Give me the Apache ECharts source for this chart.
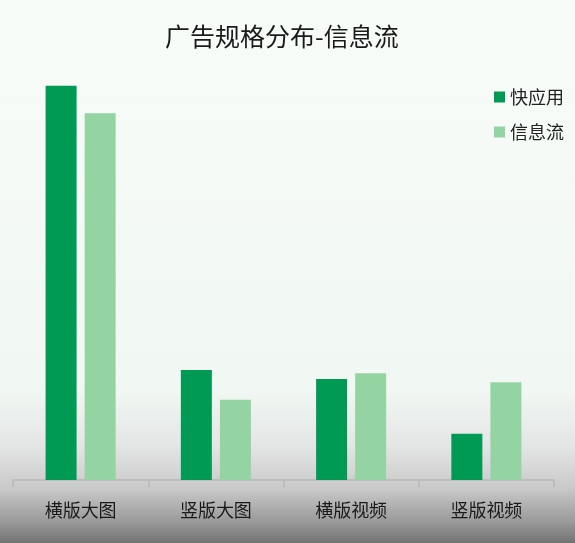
<!DOCTYPE html>
<html>
<head>
<meta charset="utf-8">
<script src="https://cdn.jsdelivr.net/npm/echarts@6/dist/echarts.min.js"></script>
<style>
  html, body { margin: 0; padding: 0; }
  #main { width: 575px; height: 543px; }
</style>
</head>
<body>
<div id="main"></div>
<script>
// 分类
var categories = ['横版大图', '竖版大图', '横版视频', '竖版视频'];
// 快应用占比(%)
var kuaiData = [60.5, 16.9, 15.5, 7.1];
// 信息流占比(%)
var xinxiData = [56.3, 12.3, 16.4, 15.0];

var chart = echarts.init(document.getElementById('main'));

var option = {
    backgroundColor: {
        type: 'linear', x: 0, y: 0, x2: 0, y2: 1,
        colorStops: [
            { offset: 0, color: '#f7fcf9' },
            { offset: 0.72, color: '#f1f7f3' },
            { offset: 0.82, color: '#e4e6e5' },
            { offset: 0.9, color: '#c9c9c9' },
            { offset: 0.96, color: '#9a9a9a' },
            { offset: 1, color: '#727272' }
        ]
    },
    textStyle: { fontFamily: 'Noto Sans CJK SC' },
    title: {
        text: '广告规格分布-信息流',
        left: 160,
        top: 19,
        textStyle: { fontSize: 25, fontWeight: 'normal', color: '#1a1a1a' }
    },
    legend: {
        orient: 'vertical',
        left: 489,
        top: 83,
        itemWidth: 11,
        itemHeight: 11,
        itemGap: 17,
        icon: 'rect',
        textStyle: { fontSize: 18, color: '#222' },
        data: ['快应用', '信息流']
    },
    grid: { left: 13, right: 21, top: 80, bottom: 63 },
    xAxis: {
        type: 'category',
        data: categories,
        axisLine: { lineStyle: { color: '#bdbdbd', width: 2 } },
        axisTick: { show: true, length: 7, lineStyle: { color: '#bdbdbd', width: 2 } },
        axisLabel: { fontSize: 18, color: '#1a1a1a', margin: 21 }
    },
    yAxis: {
        type: 'value',
        min: 0,
        max: 61.4,
        show: false,
        splitLine: { show: false }
    },
    series: [
        {
            name: '快应用',
            type: 'bar',
            data: kuaiData,
            barWidth: 31,
            barGap: '26%',
            itemStyle: { color: '#009a55' }
        },
        {
            name: '信息流',
            type: 'bar',
            data: xinxiData,
            barWidth: 31,
            itemStyle: { color: '#93d4a2' }
        }
    ]
};

chart.setOption(option);
</script>
</body>
</html>
